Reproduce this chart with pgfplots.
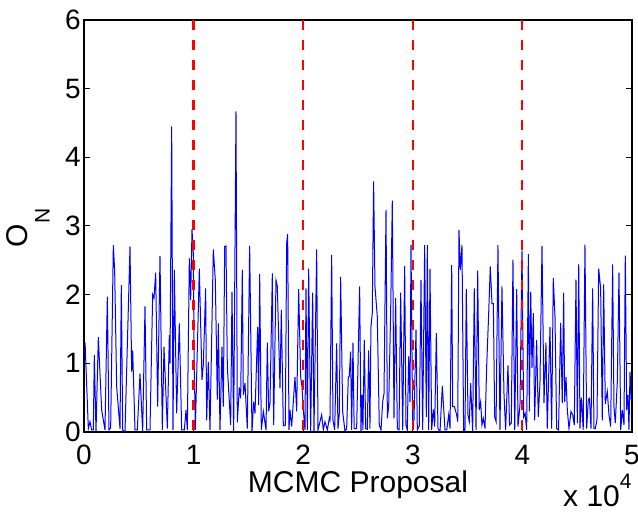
\documentclass[border=0pt]{standalone}
\usepackage{pgfplots}
\pgfplotsset{compat=1.18}
\usepackage{fontspec}
\setmainfont{Liberation Sans}
\definecolor{mred}{rgb}{1,0,0}
\definecolor{mblue}{rgb}{0,0,1}
\begin{document}
\begin{tikzpicture}
\fontsize{15}{18}\selectfont
\begin{axis}[
  at={(0,0)}, anchor=south west,
  scale only axis, width=274pt, height=206pt,
  xmin=0, xmax=50000, ymin=0, ymax=6,
  xtick={0,10000,20000,30000,40000,50000},
  xticklabels={0,1,2,3,4,5},
  scaled x ticks=false,
  ytick={0,1,2,3,4,5,6},
  tick align=inside,
  major tick length=3pt,
  axis line style={line width=0.6pt},
  every tick/.style={black, line width=0.5pt},
  /pgf/number format/assume math mode=true,
  ticklabel style={font=\fontsize{14}{16}\selectfont},
  xticklabel style={anchor=north, inner sep=0pt, yshift=-6.5pt},
  yticklabel style={anchor=east, inner sep=0pt, xshift=-1.5pt},
  unbounded coords=jump,
  clip=true,
]
\addplot[draw=mblue, line width=0.5pt] coordinates {
(100,1.30) (395,0.05) (547,0.15) (700,0.03) (851,0.03) (943,1.12) (1095,0.00) (1307,1.38)
(1612,0.32) (1916,0.03) (2129,1.97) (2281,0.03) (2433,0.06) (2676,2.72) (2798,2.35) (2980,0.66)
(3285,0.05) (3406,2.14) (3528,0.03) (3741,0.00) (4197,2.70) (4349,0.88) (4440,1.19) (4653,0.03)
(4866,0.03) (5109,0.85) (5352,0.00) (5566,1.83) (5717,0.03) (6022,0.03) (6265,2.00) (6387,1.95)
(6539,2.32) (6722,0.37) (6934,2.56) (7147,0.03) (7299,1.24) (7603,0.05) (7786,1.41) (7847,1.00)
(8000,4.45) (8120,0.03) (8242,2.36) (8455,0.27) (8698,1.58) (8911,0.03) (9154,0.03) (9307,0.32)
(9428,0.03) (9611,2.53) (9733,1.92) (9854,2.95) (9976,2.60) (10036,1.24) (10158,0.03) (10523,2.38)
(10766,0.76) (10887,0.98) (11100,2.09) (11191,0.17) (11343,1.02) (11496,0.03) (11800,2.66) (11983,2.21)
(12165,0.47) (12257,1.58) (12409,0.03) (12591,1.24) (12713,0.37) (12835,2.70) (12956,2.71) (13078,0.95)
(13382,0.10) (13503,2.04) (13655,0.00) (13868,4.67) (13990,0.14) (14172,0.65) (14294,0.49) (14446,2.36)
(14537,0.54) (14689,0.71) (14902,0.05) (15115,2.71) (15328,0.00) (15480,0.44) (15602,0.27) (15845,1.53)
(15937,0.39) (16028,2.30) (16180,0.03) (16363,0.30) (16606,0.03) (16728,1.30) (16850,0.30) (16971,0.42)
(17184,2.31) (17305,0.10) (17518,2.21) (17640,2.12) (17883,0.64) (18005,1.78) (18187,0.09) (18370,0.10)
(18491,2.75) (18583,2.88) (18704,0.03) (18796,0.32) (18948,0.08) (19252,0.80) (19404,0.30) (19586,2.08)
(19769,0.80) (19890,0.66) (20012,0.32) (20164,0.03) (20255,2.09) (20377,0.03) (20498,2.38) (20681,0.00)
(20863,2.03) (20985,0.00) (21228,2.66) (21350,0.03) (21532,0.15) (21685,0.25) (21837,0.03) (21989,0.15)
(22202,0.03) (22384,0.20) (22445,0.17) (22597,2.58) (22718,0.17) (22871,0.03) (23053,1.29) (23174,0.05)
(23296,0.27) (23418,2.26) (23600,0.30) (23813,0.01) (23965,0.05) (24117,0.80) (24200,0.81) (24330,1.17)
(24421,0.03) (24543,1.30) (24650,0.05) (24877,0.05) (25151,2.12) (25272,0.00) (25364,0.54) (25450,0.03)
(25576,1.34) (25700,0.05) (25850,0.04) (25972,1.19) (26090,0.05) (26181,1.53) (26303,1.73) (26425,3.65)
(26550,2.12) (26760,1.68) (26942,0.10) (27100,0.03) (27253,0.44) (27374,0.56) (27557,3.23) (27679,0.20)
(27800,0.37) (27983,1.78) (28130,3.37) (28284,0.20) (28436,1.95) (28590,0.05) (28741,0.03) (28893,2.03)
(29080,0.03) (29258,2.42) (29380,0.10) (29500,0.03) (29623,1.10) (29745,0.44) (29836,2.72) (29988,0.13)
(30109,0.17) (30292,1.49) (30414,0.03) (30596,0.09) (30748,2.21) (30900,0.03) (31083,2.72) (31235,0.22)
(31326,2.72) (31450,0.03) (31570,2.37) (31722,0.03) (31874,0.33) (31996,0.08) (32148,1.44) (32300,0.05)
(32482,0.00) (32695,0.67) (32938,0.03) (33100,0.03) (33275,0.25) (33400,0.05) (33549,2.43) (33640,0.37)
(33792,0.37) (34005,0.25) (34100,0.15) (34215,2.94) (34336,2.36) (34488,2.72) (34640,0.00) (34760,0.00)
(34881,2.08) (35037,0.25) (35155,0.15) (35280,0.71) (35460,0.00) (35611,2.09) (35770,0.03) (35920,2.35)
(36065,0.32) (36190,0.44) (36310,0.10) (36435,0.20) (36590,0.05) (36740,0.95) (36925,1.73) (37070,2.41)
(37225,1.87) (37350,1.87) (37470,0.22) (37600,0.15) (37770,2.72) (37955,0.03) (38135,2.12) (38320,0.56)
(38470,0.03) (38685,0.97) (38830,0.10) (38990,0.13) (39140,2.51) (39300,0.03) (39480,2.08) (39600,0.08)
(39780,0.39) (39965,2.64) (40120,0.22) (40250,0.27) (40390,0.03) (40545,2.59) (40635,0.30) (40760,2.04)
(40875,0.93) (41000,1.73) (41120,0.17) (41300,1.34) (41450,0.22) (41605,0.72) (41790,2.71) (41970,0.42)
(42150,1.30) (42270,0.05) (42520,1.53) (42670,0.05) (42820,2.24) (42975,1.68) (43125,0.05) (43300,0.03)
(43490,1.59) (43640,0.42) (43765,2.03) (43860,0.44) (43980,0.80) (44100,0.32) (44250,0.05) (44435,0.30)
(44590,0.25) (44735,0.10) (44890,2.22) (45015,0.13) (45140,2.44) (45255,0.05) (45380,0.50) (45550,0.03)
(45710,2.73) (45865,0.05) (46015,0.47) (46120,0.49) (46260,0.05) (46410,2.09) (46530,0.05) (46650,0.05)
(46805,0.17) (46960,2.38) (47140,2.09) (47290,0.17) (47415,2.15) (47565,0.41) (47745,0.59) (47900,0.25)
(48055,0.08) (48235,2.44) (48355,0.37) (48475,0.13) (48660,0.73) (48815,2.32) (48970,0.03) (49120,0.32)
(49270,0.10) (49390,2.57) (49515,0.32) (49635,0.54) (49725,0.03) (49820,0.88) (49935,0.47)
};
\addplot[draw=mred, line width=1.1pt, dash pattern=on 5pt off 5pt] coordinates {
(10000,6) (10000,0) (nan,nan)
(20000,6) (20000,0) (nan,nan)
(30000,6) (30000,0) (nan,nan)
(40000,6) (40000,0)
};
\end{axis}
\node[anchor=base] at (137pt,-30.5pt) {MCMC Proposal};
\node[anchor=base east, inner sep=0pt] at (274pt,-37.5pt) {x 10\raisebox{0.6em}{\fontsize{10.5}{11}\selectfont 4}};
\node[rotate=90, anchor=south, inner sep=0pt] at (-17pt,102pt) {O\raisebox{-0.75em}{\fontsize{10.5}{11}\selectfont N}};
\pgfresetboundingbox
\useasboundingbox (-42pt,-40pt) rectangle (277pt,216pt);
\end{tikzpicture}
\end{document}
